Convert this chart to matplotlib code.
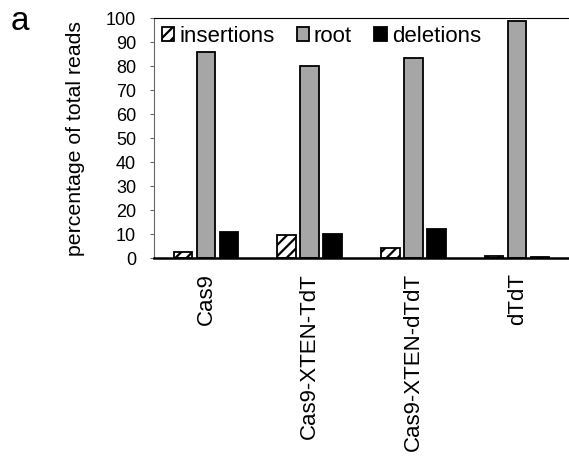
import matplotlib
matplotlib.use('Agg')
import matplotlib.pyplot as plt
import numpy as np

categories = ['Cas9', 'Cas9-XTEN-TdT', 'Cas9-XTEN-dTdT', 'dTdT']
insertions = [2.6, 9.6, 4.0, 0.7]
root = [86.0, 80.0, 83.5, 98.9]
deletions = [10.7, 9.9, 12.1, 0.4]

matplotlib.rcParams.update({'font.family': 'Liberation Sans', 'hatch.linewidth': 1.6})

fig = plt.figure(figsize=(5.69, 4.57), dpi=100)
ax = fig.add_axes([0.2707, 0.4354, 0.7293, 0.5252])

x = np.arange(len(categories))
w = 0.18
off = 0.222
ax.bar(x - off, insertions, w, color='white', edgecolor='black', hatch='///',
       linewidth=1.3, label='insertions')
ax.bar(x, root, w, color='#a6a6a6', edgecolor='black', linewidth=1.3, label='root')
ax.bar(x + off, deletions, w, color='black', edgecolor='black', linewidth=1.3,
       label='deletions')

ax.set_xlim(-0.5, 3.5)
ax.set_ylim(0, 100)
ax.set_yticks(np.arange(0, 101, 10))
ax.tick_params(axis='y', labelsize=13, length=3, width=0.8, color='#666666', pad=10)
ax.set_xticks(x)
ax.set_xticklabels(categories, rotation=90, fontsize=16)
ax.tick_params(axis='x', length=0, pad=11)
ax.set_ylabel('percentage of total reads', fontsize=15.3, labelpad=15)

ax.spines['left'].set_color('#666666')
ax.spines['left'].set_linewidth(0.8)
ax.spines['top'].set_linewidth(0.8)
ax.spines['right'].set_visible(False)
ax.spines['bottom'].set_linewidth(1.8)

ax.legend(loc='upper left', ncol=3, frameon=False, fontsize=16,
          handlelength=0.55, handleheight=0.55, handletextpad=0.23,
          columnspacing=1.0, borderaxespad=0.1, borderpad=0.25)

fig.text(0.018, 0.934, 'a', fontsize=24, va='baseline')

fig.savefig('out.png', dpi=100)
